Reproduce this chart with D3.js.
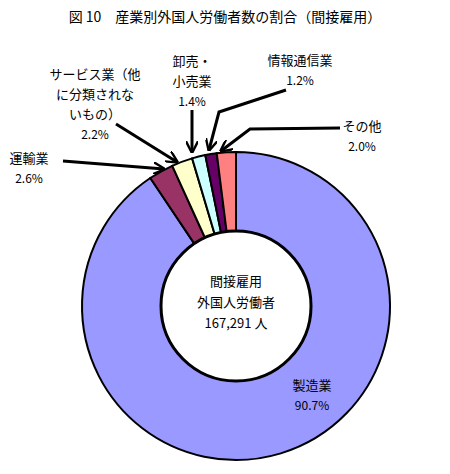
<!DOCTYPE html><html><head><meta charset="utf-8">
<script src="https://cdn.jsdelivr.net/npm/d3@7"></script>
<style>body{margin:0;background:#fff}text{font-family:"Noto Sans CJK JP",sans-serif;fill:#000;font-weight:normal}</style></head><body>
<svg id="c" width="450" height="474"></svg>
<script>
const categories=["製造業","運輸業","サービス業（他に分類されないもの）","卸売・小売業","情報通信業","その他"];
const values=[90.7,2.6,2.2,1.4,1.2,2.0];
const colors=["#9999FF","#993366","#FFFFCC","#CCFFFF","#660066","#FF8080"];
const svg=d3.select("#c");
const cx=236,cy=306,R=154,r=75;
svg.append("text").attr("x",225).attr("y",22).attr("text-anchor","middle").attr("font-size",14).attr("font-weight",300).text("図 10　産業別外国人労働者数の割合（間接雇用）");
const pie=d3.pie().sort(null).value(d=>d)(values);
const arc=d3.arc().innerRadius(r).outerRadius(R);
const g=svg.append("g").attr("transform",`translate(${cx},${cy})`);
g.selectAll("path").data(pie).join("path").attr("d",arc).attr("fill",(d,i)=>colors[i]).attr("stroke","#000").attr("stroke-width",2);
g.append("circle").attr("r",r).attr("fill","#fff").attr("stroke","#000").attr("stroke-width",3);
const center=["間接雇用","外国人労働者","167,291 人"];
center.forEach((t,i)=>g.append("text").attr("y",-20+i*21).attr("text-anchor","middle").attr("font-size",13).text(t));
svg.append("defs").append("marker").attr("id","ah").attr("viewBox","0 0 10 10").attr("refX",9).attr("refY",5).attr("markerWidth",4).attr("markerHeight",4).attr("orient","auto").append("path").attr("d","M0,0L10,5L0,10").attr("fill","none").attr("stroke","#000").attr("stroke-width",2);
const labels=[
 {lines:["製造業","90.7%"],x:312,y:390},
 {lines:["運輸業","2.6%"],x:29,y:163},
 {lines:["サービス業（他","に分類されな","いもの）","2.2%"],x:95,y:79},
 {lines:["卸売・","小売業","1.4%"],x:192,y:66},
 {lines:["情報通信業","1.2%"],x:300,y:65},
 {lines:["その他","2.0%"],x:362,y:131}];
const leaders=[null,[[63,161],[164,169]],[[116,124],[177,162]],[[192,110],[192,152]],[[286,90],[219,112],[209,150]],[[340,128],[250,129],[221,151]]];
labels.forEach((l,i)=>{l.lines.forEach((t,j)=>svg.append("text").attr("x",l.x).attr("y",l.y+j*20).attr("text-anchor","middle").attr("font-size",j==l.lines.length-1?12:13).text(t));});
leaders.forEach(p=>{if(p)svg.append("path").attr("d",d3.line()(p)).attr("fill","none").attr("stroke","#000").attr("stroke-width",3).attr("marker-end","url(#ah)");});
</script></body></html>
